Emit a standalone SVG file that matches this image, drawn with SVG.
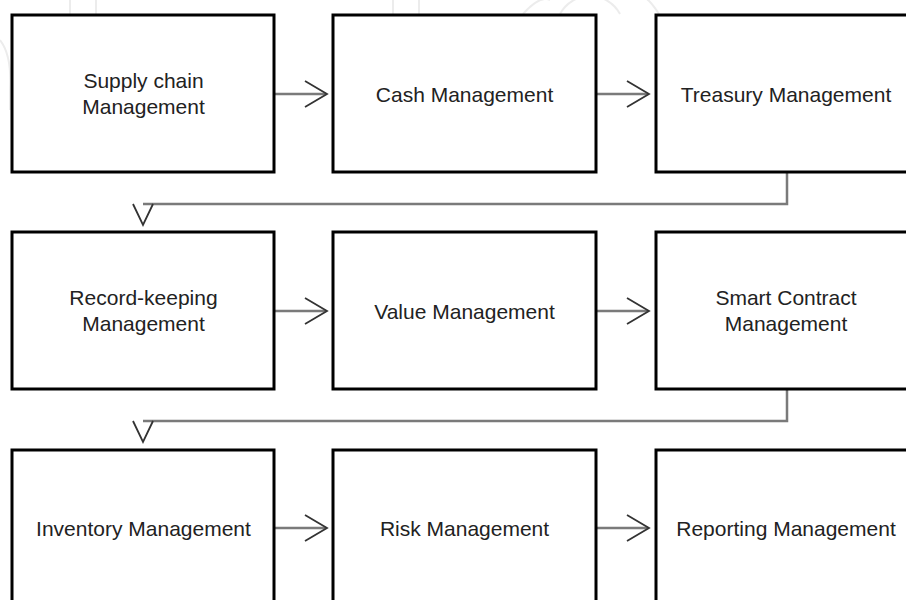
<svg xmlns="http://www.w3.org/2000/svg" xmlns:xlink="http://www.w3.org/1999/xlink" width="906" height="600" viewBox="0 0 906 600">
  <style>
    .box { fill: #ffffff; stroke: #000000; stroke-width: 3; }
    .lbl { font-family: "Liberation Sans", Arial, sans-serif; font-size: 21px; fill: #222222; text-anchor: middle; }
    .conn { fill: none; stroke: #7a7a7a; stroke-width: 2.5; }
    .head { fill: none; stroke: #333333; stroke-width: 1.8; stroke-linejoin: miter; }
    .wm { fill: none; stroke: #ececec; stroke-width: 2; }
  </style>
  <defs>
    <path id="chevR" d="M-22,-13 L0,0 L-22,13"/>
    <path id="chevD" d="M-10,0 L0,21 L10,0"/>
  </defs>
  <rect width="906" height="600" fill="#ffffff"/>
  <g id="watermark">
    <path class="wm" d="M70,0 V14 M96,0 V14 M393,0 V14 M419,0 V14"/>
    <path class="wm" d="M523,14 Q540,-5 550,0 M560,14 A34,34 0 0 1 620,14 M659,14 Q650,0 645,-2"/>
    <path class="wm" d="M0,40 Q12,55 10,90 V110"/>
  </g>
  <g id="connectors">
    <path class="conn" d="M275,94 H326"/>
    <use href="#chevR" class="head" transform="translate(327,94)"/>
    <path class="conn" d="M597,94 H648"/>
    <use href="#chevR" class="head" transform="translate(649,94)"/>
    <path class="conn" d="M787,173 V204 H143"/>
    <use href="#chevD" class="head" transform="translate(143,204)"/>
    <path class="conn" d="M275,311 H326"/>
    <use href="#chevR" class="head" transform="translate(327,311)"/>
    <path class="conn" d="M597,311 H648"/>
    <use href="#chevR" class="head" transform="translate(649,311)"/>
    <path class="conn" d="M787,390 V421 H143"/>
    <use href="#chevD" class="head" transform="translate(143,421)"/>
    <path class="conn" d="M275,528 H326"/>
    <use href="#chevR" class="head" transform="translate(327,528)"/>
    <path class="conn" d="M597,528 H648"/>
    <use href="#chevR" class="head" transform="translate(649,528)"/>
  </g>
  <g id="n1"><rect class="box" x="12" y="15" width="262" height="157"/>
    <text class="lbl" x="143.5" y="88">Supply chain</text><text class="lbl" x="143.5" y="114">Management</text></g>
  <g id="n2"><rect class="box" x="333" y="15" width="263" height="157"/>
    <text class="lbl" x="464.5" y="102">Cash Management</text></g>
  <g id="n3"><rect class="box" x="656" y="15" width="263" height="157"/>
    <text class="lbl" x="786" y="102">Treasury Management</text></g>
  <g id="n4"><rect class="box" x="12" y="232" width="262" height="157"/>
    <text class="lbl" x="143.5" y="305">Record-keeping</text><text class="lbl" x="143.5" y="331">Management</text></g>
  <g id="n5"><rect class="box" x="333" y="232" width="263" height="157"/>
    <text class="lbl" x="464.5" y="319">Value Management</text></g>
  <g id="n6"><rect class="box" x="656" y="232" width="263" height="157"/>
    <text class="lbl" x="786" y="305">Smart Contract</text><text class="lbl" x="786" y="331">Management</text></g>
  <g id="n7"><rect class="box" x="12" y="450" width="262" height="157"/>
    <text class="lbl" x="143.5" y="536">Inventory Management</text></g>
  <g id="n8"><rect class="box" x="333" y="450" width="263" height="157"/>
    <text class="lbl" x="464.5" y="536">Risk Management</text></g>
  <g id="n9"><rect class="box" x="656" y="450" width="263" height="157"/>
    <text class="lbl" x="786" y="536">Reporting Management</text></g>
</svg>
